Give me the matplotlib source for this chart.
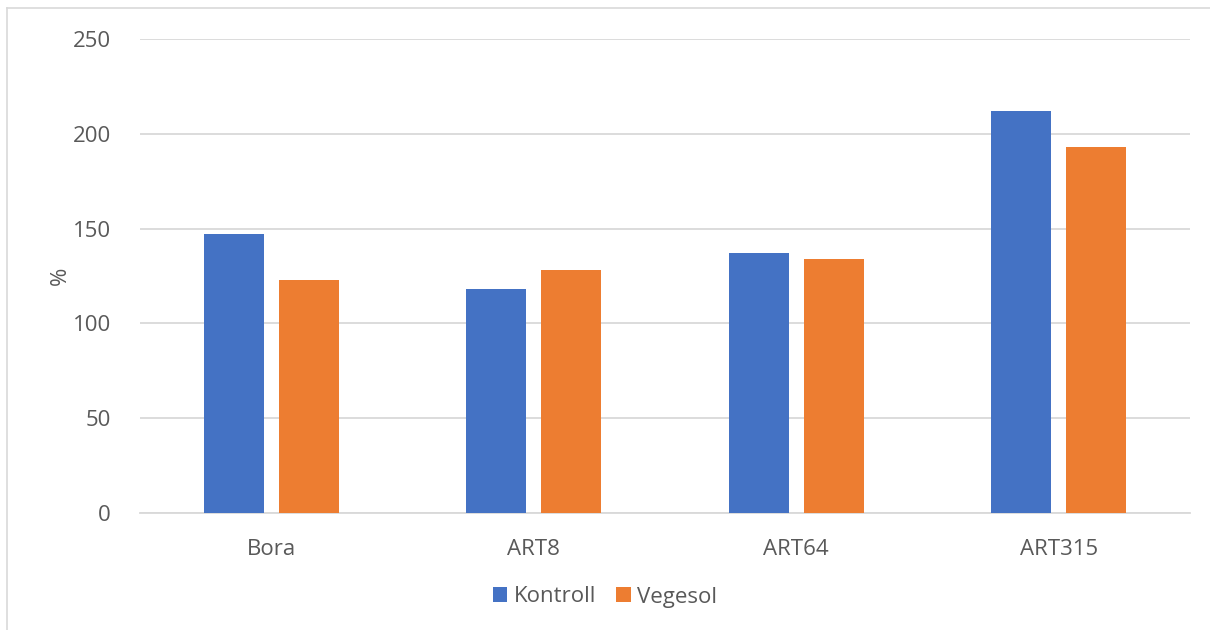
import numpy as np
import matplotlib
matplotlib.use("Agg")
import matplotlib.pyplot as plt
from matplotlib.lines import Line2D

# data
categories = ["Bora", "ART8", "ART64", "ART315"]
kontroll = [147, 118, 137, 212]
vegesol = [123, 128, 134, 193]
series_names = ["Kontroll", "Vegesol"]

plt.rcParams["font.family"] = ["Open Sans", "DejaVu Sans"]
text_color = "#595959"
grid_color = "#D9D9D9"

fig = plt.figure(figsize=(12.1, 6.3), dpi=100)
ax = fig.add_axes([140 / 1210, 1 - 513 / 630, 1050 / 1210, 474 / 630])

x = np.arange(len(categories))
w = 0.229
ax.bar(x - 0.143, kontroll, w, color="#4472C4", label=series_names[0], zorder=3)
ax.bar(x + 0.143, vegesol, w, color="#ED7D31", label=series_names[1], zorder=3)

ax.set_xlim(-0.5, len(categories) - 0.5)
ax.set_ylim(0, 250)
ax.set_yticks(range(0, 251, 50))
ax.yaxis.grid(True, color=grid_color, linewidth=1.3, zorder=0)
ax.set_axisbelow(True)
for s in ["top", "right", "left"]:
    ax.spines[s].set_visible(False)
ax.spines["bottom"].set_color(grid_color)
ax.spines["bottom"].set_linewidth(1.3)
ax.set_xticks(x)
ax.set_xticklabels(categories)
ax.tick_params(axis="both", length=0, labelsize=16, labelcolor=text_color)
ax.tick_params(axis="x", pad=19)
ax.tick_params(axis="y", pad=21)
ax.set_ylabel("%", fontsize=16, color=text_color, labelpad=1)

ax.legend(loc="center", bbox_to_anchor=(0.5, 1 - 597 / 630), bbox_transform=fig.transFigure,
          ncol=2, frameon=False, fontsize=16, labelcolor=text_color,
          handlelength=0.65, handleheight=0.65, handletextpad=0.3, columnspacing=0.9)

# outer border (left and top edges visible)
fig.add_artist(Line2D([7 / 1210, 7 / 1210], [0, 1 - 8 / 630], color=grid_color, lw=1.2, transform=fig.transFigure))
fig.add_artist(Line2D([7 / 1210, 1], [1 - 8 / 630, 1 - 8 / 630], color=grid_color, lw=1.2, transform=fig.transFigure))

fig.savefig("out.png", dpi=100)
